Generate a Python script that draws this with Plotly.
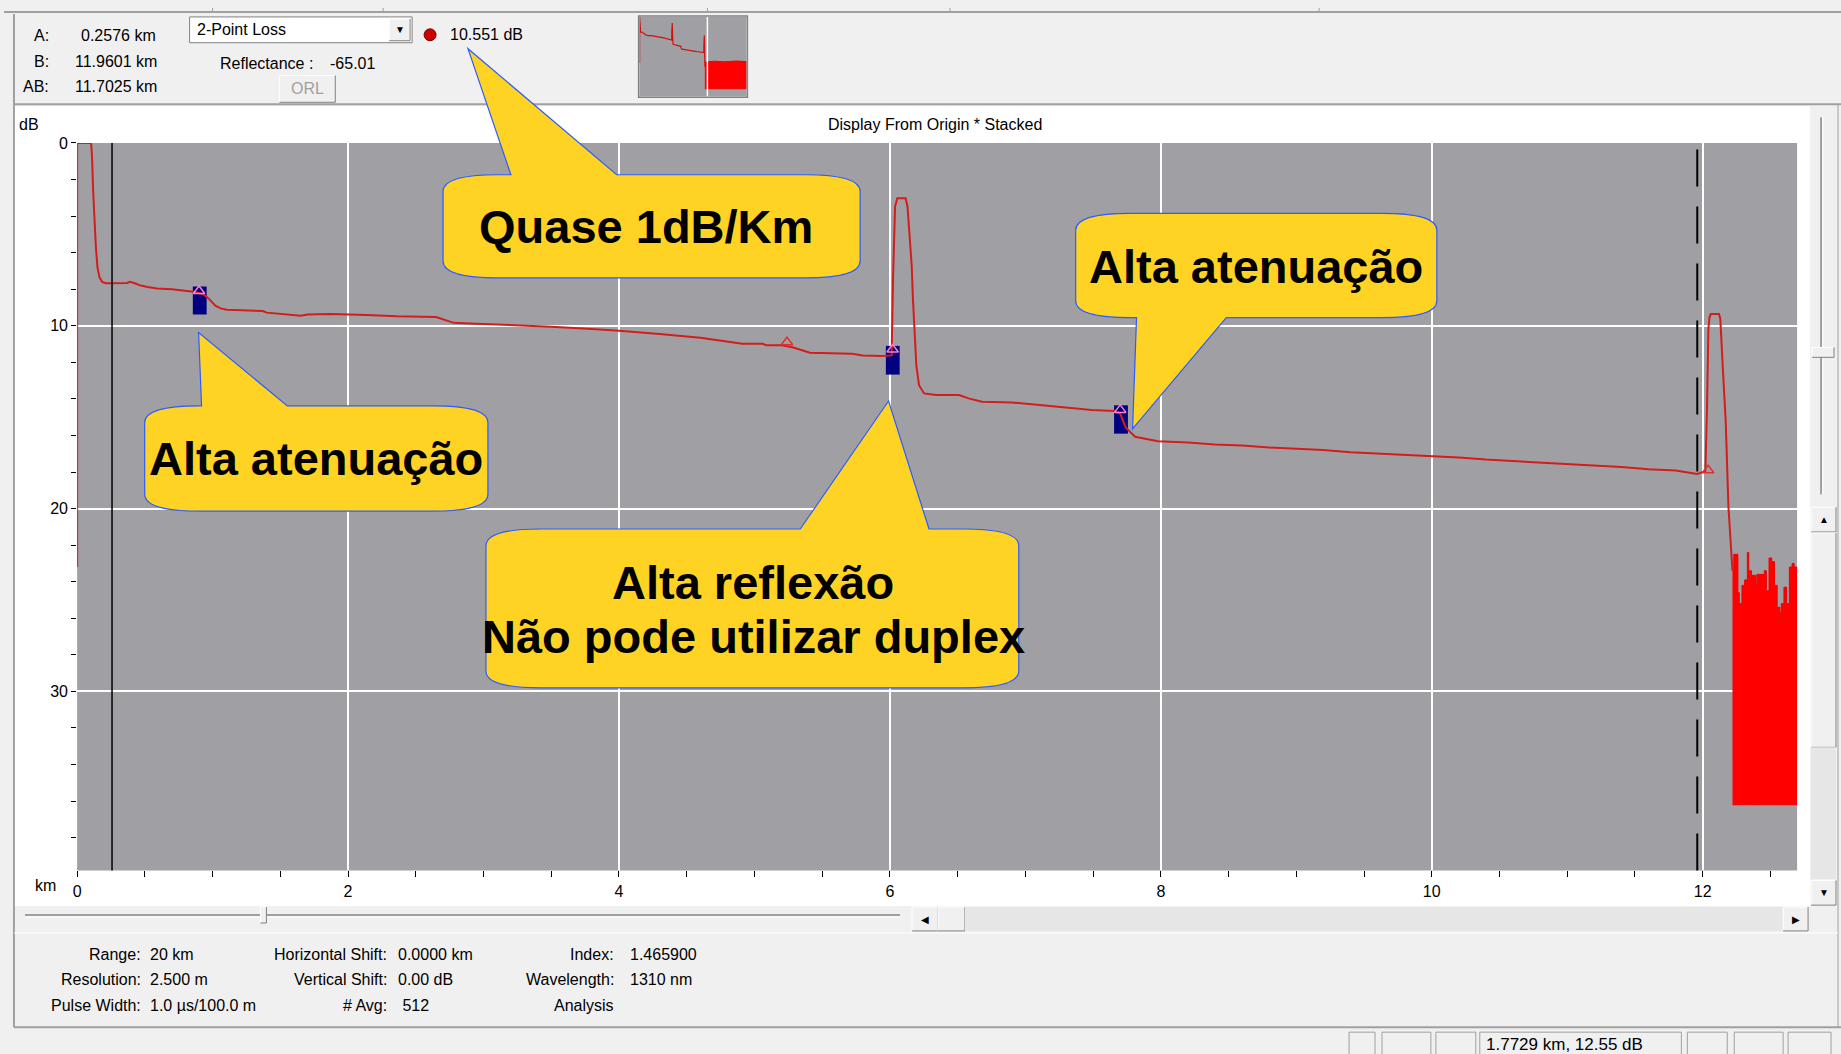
import plotly.graph_objects as go

W, H = 1841, 1054

# ---------------- data ----------------
trace_km = [
    0.000, 0.000, 0.103, 0.110, 0.118, 0.128, 0.138, 0.150, 0.165, 0.185, 0.210,
    0.370, 0.390, 0.420, 0.470, 0.520, 0.590, 0.700, 0.810, 0.860, 0.930, 0.970, 1.020, 1.060, 1.105,
    1.370, 1.400, 1.500, 1.650, 1.700, 1.870, 2.140, 2.360, 2.650, 2.720, 2.780, 2.900,
    3.200, 3.500, 3.800, 4.000, 4.300, 4.600, 4.910, 5.060, 5.090, 5.200, 5.280, 5.320, 5.370, 5.410,
    5.720, 5.800, 5.940, 6.013,
    6.023, 6.038, 6.055, 6.116, 6.130, 6.146, 6.161, 6.170, 6.180, 6.195, 6.215, 6.252, 6.340, 6.510,
    6.580, 6.680, 6.900, 7.100, 7.300, 7.490, 7.660, 7.700, 7.740, 7.810, 7.980,
    8.20, 8.40, 8.60, 8.80, 9.00, 9.20, 9.40, 9.60, 9.80, 10.00, 10.20, 10.40, 10.60, 10.80, 11.00,
    11.20, 11.40, 11.60, 11.80, 11.96, 12.02,
    12.032, 12.036, 12.042, 12.050, 12.060, 12.120, 12.130, 12.150, 12.170, 12.190, 12.220,
]
trace_db = [
    23.2, 0.0, 0.0, 0.76, 2.57, 4.38, 5.65, 6.80, 7.35, 7.60, 7.67,
    7.66, 7.60, 7.66, 7.80, 7.88, 7.96, 8.00, 8.08, 8.14, 8.27, 8.50, 8.90, 9.05, 9.12,
    9.19, 9.28, 9.36, 9.45, 9.38, 9.36, 9.41, 9.48, 9.52, 9.68, 9.84, 9.88,
    9.95, 10.05, 10.18, 10.27, 10.45, 10.65, 10.98, 10.98, 11.07, 11.07, 11.17, 11.25, 11.35, 11.47,
    11.53, 11.62, 11.65, 11.62,
    7.45, 3.47, 3.02, 3.02, 3.47, 4.92, 6.73, 8.54, 10.35, 12.16, 13.25, 13.70, 13.79, 13.79,
    13.97, 14.15, 14.19, 14.33, 14.48, 14.60, 14.66, 14.80, 15.56, 16.07, 16.32,
    16.38, 16.50, 16.55, 16.66, 16.72, 16.80, 16.92, 16.98, 17.05, 17.12, 17.20, 17.32, 17.40, 17.48, 17.55,
    17.63, 17.72, 17.85, 17.92, 18.10, 17.95,
    14.50, 11.50, 10.20, 9.55, 9.35, 9.35, 9.60, 12.50, 15.20, 19.90, 23.40,
]
noise_km = [12.22, 12.23, 12.26, 12.27, 12.29, 12.31, 12.33, 12.34, 12.36, 12.39, 12.40, 12.44, 12.455,
            12.47, 12.49, 12.51, 12.53, 12.55, 12.57, 12.58, 12.60, 12.62, 12.64, 12.66, 12.675, 12.697]
noise_top_db = [23.4, 22.5, 24.6, 25.2, 24.2, 23.9, 22.4, 23.4, 23.65, 24.1, 23.6, 23.6, 23.4,
                24.5, 22.7, 22.9, 24.2, 25.4, 25.7, 25.2, 24.3, 25.2, 23.2, 23.0, 23.2, 23.3]
noise_floor_db = 36.2
overview_tail_km = [12.70, 14.0, 16.0, 18.0, 20.0]
overview_tail_db = [22.6, 22.3, 22.6, 22.2, 22.5]

cursor_km = [0.2576, 11.9601]          # A, B
event_box_km = [0.904, 6.020, 7.705]
event_box_top_db = [7.85, 11.10, 14.35]
event_box_bottom_db = [9.38, 12.67, 15.90]
event_mark_km = [0.90, 5.24, 6.02, 7.70, 12.04]
event_mark_db = [8.10, 10.90, 11.30, 14.60, 17.90]
event_mark_boxed = [True, False, True, True, False]

x_tick_vals = [0, 2, 4, 6, 8, 10, 12]
y_tick_vals = [0, 10, 20, 30]
x_range_km = [0, 12.697]
y_range_db = [39.79, 0]
overview_x_range = [0, 20]
overview_y_range = [40, 0]

cursor_labels = ["A:", "B:", "AB:"]
cursor_values = ["0.2576 km", "11.9601 km", "11.7025 km"]
info_col1_labels = ["Range:", "Resolution:", "Pulse Width:"]
info_col1_values = ["20 km", "2.500 m", "1.0 µs/100.0 m"]
info_col2_labels = ["Horizontal Shift:", "Vertical Shift:", "# Avg:"]
info_col2_values = ["0.0000 km", "0.00 dB", " 512"]
info_col3_labels = ["Index:", "Wavelength:", "Analysis"]
info_col3_values = ["1.465900", "1310 nm", ""]
status_text = "1.7729 km, 12.55 dB"

# ---------------- style ----------------
FONT = "Arial, 'Liberation Sans', sans-serif"
GRAY = "#a0a0a4"
PANEL = "#f0f0f0"
EDGE = "#a0a0a0"
YELLOW = "#ffd324"
BLUE = "#2b5cff"
TRACE = "#d41c1c"

def X(p):
    return p / W

def Y(p):
    return 1 - p / H

shapes = []
annotations = []

def rect(x0, y0, x1, y1, fill=None, line=None, lw=1, layer="below"):
    shapes.append(dict(type="rect", xref="paper", yref="paper",
                       x0=X(x0), x1=X(x1), y0=Y(y1), y1=Y(y0),
                       fillcolor=fill or "rgba(0,0,0,0)",
                       line=dict(color=line or "rgba(0,0,0,0)", width=lw if line else 0),
                       layer=layer))

def seg(x0, y0, x1, y1, color, w=1, layer="below"):
    shapes.append(dict(type="line", xref="paper", yref="paper",
                       x0=X(x0), x1=X(x1), y0=Y(y0), y1=Y(y1),
                       line=dict(color=color, width=w), layer=layer))

def button(x0, y0, x1, y1):
    rect(x0, y0, x1, y1, fill=PANEL)
    seg(x0, y0, x1, y0, "white")
    seg(x0, y0, x0, y1, "white")
    seg(x0, y1, x1, y1, "#808080")
    seg(x1, y0, x1, y1, "#808080")

def text(x, y, s, anchor="left", size=16, color="black"):
    annotations.append(dict(xref="paper", yref="paper", x=X(x), y=Y(y), text=s,
                            showarrow=False, xanchor=anchor, yanchor="middle",
                            font=dict(size=size, color=color, family=FONT)))

def callout(x0, y0, x1, y1, edge, ba, bb, tip, rx=55, ry=17):
    P = lambda x, y: f"{X(x):.6f},{Y(y):.6f}"
    d = f"M{P(x0 + rx, y0)}"
    if edge == "top":
        d += f" L{P(ba, y0)} L{P(*tip)} L{P(bb, y0)}"
    d += f" L{P(x1 - rx, y0)} Q{P(x1, y0)} {P(x1, y0 + ry)}"
    d += f" L{P(x1, y1 - ry)} Q{P(x1, y1)} {P(x1 - rx, y1)}"
    if edge == "bottom":
        d += f" L{P(bb, y1)} L{P(*tip)} L{P(ba, y1)}"
    d += f" L{P(x0 + rx, y1)} Q{P(x0, y1)} {P(x0, y1 - ry)}"
    d += f" L{P(x0, y0 + ry)} Q{P(x0, y0)} {P(x0 + rx, y0)} Z"
    shapes.append(dict(type="path", xref="paper", yref="paper", path=d,
                       fillcolor=YELLOW, line=dict(color=BLUE, width=1.2), layer="above"))

# ---------------- window chrome ----------------
seg(0, 4, W, 4, EDGE, 2)
for sx in [209, 380, 705, 948, 1318]:
    seg(sx, 0, sx, 4, EDGE, 1)
seg(10, 6, 10, 1027, EDGE, 2)
seg(10, 97, W, 97, EDGE, 2)
seg(1838, 97, 1838, 1027, EDGE, 1)

# chart panel
rect(11, 99, 1810, 905, fill="white")
rect(73.3, 136, 1797, 869, fill=GRAY)

# vertical slider and scrollbar
seg(1821, 110, 1821, 490, EDGE, 2)
seg(1823, 110, 1823, 490, "white", 1)
button(1812, 342, 1834, 352)
button(1811, 503, 1836, 528)
text(1823.5, 515, "▲", "center", 10)
button(1811, 529, 1836, 745)
rect(1811, 745, 1836, 878, fill="#e6e6e6")
button(1811, 879, 1836, 904)
text(1823.5, 891, "▼", "center", 10)

# horizontal slider band and scrollbar
rect(11, 905, 1810, 931, fill=PANEL)
seg(21, 914, 898, 914, EDGE, 2)
seg(21, 916, 898, 916, "white", 1)
button(257, 906, 263, 922)
button(910, 906, 936, 930)
text(923, 918, "◀", "center", 10)
button(936, 906, 963, 930)
rect(963, 906, 1783, 930, fill="#e6e6e6")
button(1783, 906, 1808, 930)
text(1795.5, 918, "▶", "center", 10)

# info panel bottom border and status bar
seg(10, 932, 1838, 932, "white", 1)
seg(10, 1027, W, 1027, EDGE, 2)
for bx0, bx1 in [(1348, 1374), (1381, 1430), (1435, 1475), (1479, 1681),
                 (1687, 1727), (1734, 1783), (1788, 1831)]:
    rect(bx0, 1032, bx1, 1056, line=EDGE, lw=1)
text(1483, 1044, status_text, "left", 17)

# top panel widgets
rect(186, 9, 409, 35, fill="white", line="#808080")
button(386, 11, 407, 33)
text(396.5, 22, "▼", "center", 10)
text(191, 22, "2-Point Loss")
shapes.append(dict(type="circle", xref="paper", yref="paper",
                   x0=X(421), x1=X(433), y0=Y(33), y1=Y(21),
                   fillcolor="#cc0000", line=dict(color="#7a0000", width=1), layer="below"))
text(445, 27, "10.551 dB")
for i, (lab, val) in enumerate(zip(cursor_labels, cursor_values)):
    yy = [28, 54, 79][i]
    text(47, yy, lab, "right")
    text([75, 69, 69][i], yy, val, "left")
text(214, 56, "Reflectance :")
text(325, 56, "-65.01")
button(276, 68, 332, 95)
text(304, 81, "ORL", "center", 16, "#a0a0a0")

# overview thumbnail background / border / view marker
rect(637, 9, 744, 89, fill=GRAY)
rect(636, 8, 745, 90, line="#808080", lw=1.5, layer="above")
shapes.append(dict(type="line", xref="x2", yref="y2 domain", x0=x_range_km[1], x1=x_range_km[1],
                   y0=0, y1=1, line=dict(color="white", width=1.5), layer="above"))

# labels around the plot
text(13, 117, "dB")
text(933, 117, "Display From Origin * Stacked", "center")
text(42, 884, "km", "center")

# info panel text
rows = [954, 979, 1005]
for i in range(3):
    text(139, rows[i], info_col1_labels[i], "right")
    text(144, rows[i], info_col1_values[i])
    text(386, rows[i], info_col2_labels[i], "right")
    text(393, rows[i], info_col2_values[i])
    text(613, rows[i], info_col3_labels[i], "right")
    if info_col3_values[i]:
        text(625, rows[i], info_col3_values[i])

# ---------------- plot overlays ----------------
for km, top, bot in zip(event_box_km, event_box_top_db, event_box_bottom_db):
    shapes.append(dict(type="rect", xref="x", yref="y", x0=km - 0.05, x1=km + 0.052,
                       y0=top, y1=bot, fillcolor="#000080", line=dict(width=0), layer="between"))

shapes.append(dict(type="line", xref="x", yref="y domain", x0=cursor_km[0], x1=cursor_km[0],
                   y0=0, y1=1, line=dict(color="black", width=1.5), layer="above"))
shapes.append(dict(type="line", xref="x", yref="y domain", x0=cursor_km[1], x1=cursor_km[1],
                   y0=0, y1=1, line=dict(color="black", width=2, dash="37px,20px"), layer="above"))

# callouts
callout(440, 168, 858, 272, "top", 508, 614, (465, 41))
callout(141, 401, 485, 507, "top", 198, 284, (195, 327))
callout(483, 525, 1017, 685, "top", 798, 927, (886.5, 396))
callout(1074, 207, 1436, 312, "bottom", 1135, 1225, (1131, 424))
text(643, 220, "<b>Quase 1dB/Km</b>", "center", 47)
text(313, 454, "<b>Alta atenuação</b>", "center", 47)
text(751, 579, "<b>Alta reflexão</b>", "center", 47)
text(751, 633, "<b>Não pode utilizar duplex</b>", "center", 47)
text(1255, 260, "<b>Alta atenuação</b>", "center", 47)

# ---------------- traces ----------------
fig = go.Figure()
fig.add_trace(go.Scatter(
    x=noise_km + noise_km[::-1], y=noise_top_db + [noise_floor_db] * len(noise_km),
    mode="lines", fill="toself", fillcolor="#ff0000", line=dict(color="#ee0000", width=1, shape="hv"),
    xaxis="x", yaxis="y", hoverinfo="skip"))
fig.add_trace(go.Scatter(x=trace_km, y=trace_db, mode="lines",
                         line=dict(color=TRACE, width=2), xaxis="x", yaxis="y", hoverinfo="skip"))
fig.add_trace(go.Scatter(
    x=event_mark_km, y=event_mark_db, mode="markers",
    marker=dict(symbol="triangle-up-open", size=10,
                color=["#ff7fc8" if b else "#e03030" for b in event_mark_boxed],
                line=dict(width=1.5)),
    xaxis="x", yaxis="y", hoverinfo="skip"))

ov_km = noise_km + overview_tail_km
ov_top = noise_top_db + overview_tail_db
fig.add_trace(go.Scatter(
    x=ov_km + ov_km[::-1], y=ov_top + [noise_floor_db] * len(ov_km),
    mode="lines", fill="toself", fillcolor="#ff0000", line=dict(color="#ee0000", width=1),
    xaxis="x2", yaxis="y2", hoverinfo="skip"))
fig.add_trace(go.Scatter(x=trace_km, y=trace_db, mode="lines",
                         line=dict(color="#d01010", width=1.2), xaxis="x2", yaxis="y2", hoverinfo="skip"))

fig.update_layout(
    width=W, height=H, margin=dict(l=0, r=0, t=0, b=0),
    paper_bgcolor=PANEL, plot_bgcolor="rgba(0,0,0,0)",
    showlegend=False, font=dict(family=FONT, size=16, color="black"),
    xaxis=dict(domain=[X(73.3), X(1797)], range=x_range_km, tickvals=x_tick_vals,
               ticks="outside", ticklen=6, tickcolor="black", tickwidth=1,
               showgrid=True, gridcolor="white", gridwidth=1.5, zeroline=False, showline=False,
               tickfont=dict(size=16, family=FONT, color="black"), anchor="y", fixedrange=True,
               minor=dict(dtick=0.5, tick0=0, ticks="outside", ticklen=6, tickcolor="black",
                          showgrid=False)),
    yaxis=dict(domain=[Y(869), Y(136)], range=y_range_db, tickvals=y_tick_vals,
               ticks="outside", ticklen=5, tickcolor="black", tickwidth=1,
               showgrid=True, gridcolor="white", gridwidth=1.5, zeroline=False, showline=False,
               tickfont=dict(size=16, family=FONT, color="black"), anchor="x", fixedrange=True,
               minor=dict(dtick=2, tick0=0, ticks="outside", ticklen=5, tickcolor="black",
                          showgrid=False)),
    xaxis2=dict(domain=[X(637), X(744)], range=overview_x_range, visible=False, anchor="y2",
                fixedrange=True),
    yaxis2=dict(domain=[Y(89), Y(9)], range=overview_y_range, visible=False, anchor="x2",
                fixedrange=True),
    shapes=shapes, annotations=annotations,
)

fig.write_html(
    "out.html",
    config={"displayModeBar": False},
    post_script="document.body.style.margin='0px';document.body.style.overflow='hidden';",
)
